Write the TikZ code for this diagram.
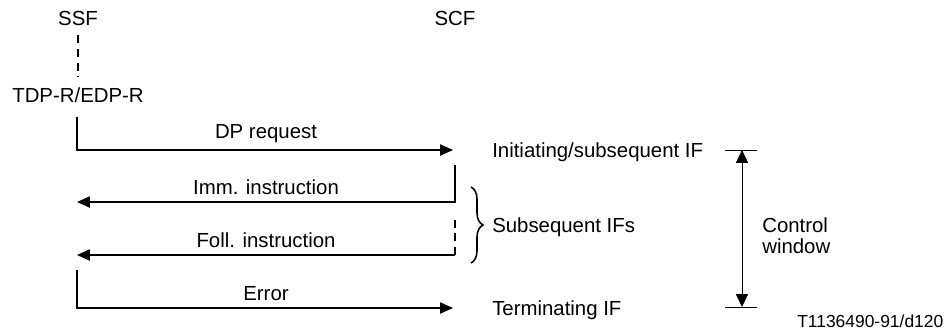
\documentclass[tikz,border=0pt]{standalone}
\usepackage{fontspec}
\setmainfont{Liberation Sans}
\usetikzlibrary{arrows.meta,decorations.pathreplacing}

\begin{document}
\begin{tikzpicture}[x=0.25mm,y=-0.25mm,
  every node/.style={font=\fontsize{14.5}{15}\selectfont},
  msg/.style={line width=0.8pt,-{Triangle[length=3.2mm,width=2.8mm]}},
  lbl/.style={above,inner sep=4.5pt},
  side/.style={anchor=base west,inner sep=0pt},
  dashline/.style={line width=0.8pt,dash pattern=on 2mm off 1.4mm}]
\useasboundingbox (0,0) rectangle (949,333);
\node[anchor=base] (ssf) at (78,25) {SSF};
\node[anchor=base] (scf) at (455,25) {SCF};
\node[anchor=base] (tdp) at (78,102) {TDP-R/EDP-R};
\draw[dashline,shorten <=1.3mm,shorten >=1.5mm] (ssf.south) -- (tdp.north);
\coordinate (s1) at (77,117);
\coordinate (c1) at (455,150);
\draw[msg,shorten >=0.5mm] (s1) |- (c1) node[lbl,pos=0.75] {DP request};
\coordinate (c2) at (455,165);
\coordinate (s2) at (77,202);
\draw[msg] (c2) |- (s2) node[lbl,pos=0.75] {Imm. instruction};
\coordinate (c3) at (455,217);
\coordinate (c3b) at (455,255);
\coordinate (s3) at (77,255);
\draw[dashline] (c3b) -- (c3);
\draw[msg] (c3b) -- (s3) node[lbl,midway] {Foll. instruction};
\coordinate (s4) at (77,270);
\coordinate (c4) at (455,308);
\draw[msg,shorten >=0.5mm] (s4) |- (c4) node[lbl,pos=0.75] {Error};
\node[side] (init) at (492,157) {Initiating/subsequent IF};
\node[side] (subs) at (492,232) {Subsequent IFs};
\node[side] (term) at (492,315) {Terminating IF};
\draw[line width=1.1pt,decorate,decoration={brace,amplitude=3mm}] (471,187) -- (471,263);
\coordinate (cwt) at (742,150);
\coordinate (cwb) at (742,307);
\draw[thin] (725,150) -- (757,150);
\draw[thin] (725,307) -- (757,307);
\draw[thin,{Triangle[length=3.2mm,width=3mm]}-{Triangle[length=3.2mm,width=3mm]}] (cwt) -- (cwb);
\node[anchor=north west,inner sep=0pt,align=left] (cw) at (762,217) {Control\\window};
\node[side,font=\fontsize{12.4}{14}\selectfont] (ref) at (797,327) {T1136490-91/d120};
\end{tikzpicture}
\end{document}
